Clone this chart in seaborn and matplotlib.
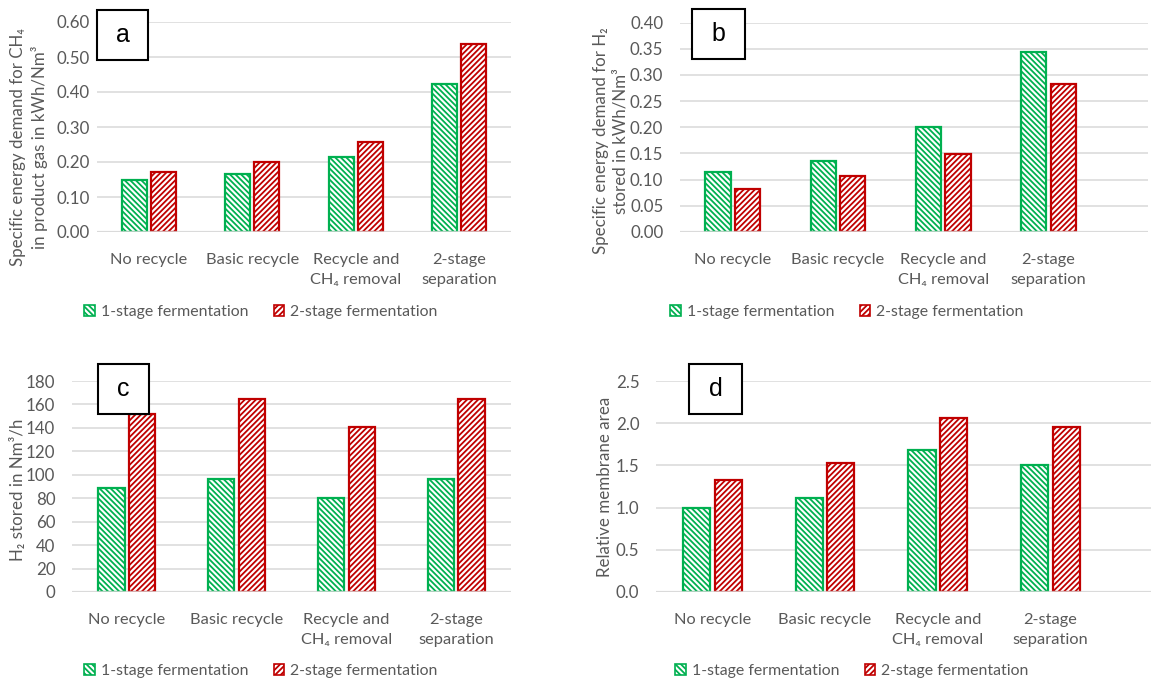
import numpy as np
import pandas as pd
import matplotlib
matplotlib.use("Agg")
import matplotlib.pyplot as plt
import seaborn as sns
from matplotlib.patches import Patch, Rectangle
from matplotlib.ticker import FormatStrFormatter

# data
SCENARIOS = ["No recycle", "Basic recycle", "Recycle and\nCH₄ removal", "2-stage\nseparation"]
STAGES = ["1-stage fermentation", "2-stage fermentation"]

ch4_1stage = [0.149, 0.167, 0.215, 0.423]
ch4_2stage = [0.171, 0.200, 0.256, 0.538]
h2_1stage = [0.115, 0.135, 0.200, 0.343]
h2_2stage = [0.083, 0.106, 0.149, 0.282]
stored_1stage = [89, 96, 80, 96]
stored_2stage = [152, 165, 141, 165]
area_1stage = [1.00, 1.11, 1.68, 1.50]
area_2stage = [1.33, 1.53, 2.06, 1.95]

# styling
W, H = 1151, 681
GREEN = "#00B050"
RED = "#C00000"
TEXT = "#595959"
GRID = "#D9D9D9"
HATCHES = ["\\\\\\\\\\\\", "//////"]
FONT = 12.2
XFONT = 11.8
LEGFONT = 11.4

sns.set_theme(style="white")
plt.rcParams["font.family"] = ["Lato", "DejaVu Sans"]
plt.rcParams["hatch.linewidth"] = 1.3


def px_rect(left, right, top, bottom):
    return [left / W, 1 - bottom / H, (right - left) / W, (bottom - top) / H]


def draw_panel(fig, v1, v2, rect, xmax, ylim, yticks, fmt, ylabel, label_xy, ypad, letter_box, legend_xy):
    ax = fig.add_axes(px_rect(*rect))
    df = pd.DataFrame({
        "scenario": SCENARIOS * 2,
        "stage": [STAGES[0]] * 4 + [STAGES[1]] * 4,
        "value": v1 + v2,
    })
    sns.barplot(data=df, x="scenario", y="value", hue="stage", order=SCENARIOS,
                hue_order=STAGES, palette=[GREEN, RED], width=0.56, gap=0.143,
                ax=ax, legend=False, zorder=3)
    for bars, color, hatch in zip(ax.containers, [GREEN, RED], HATCHES):
        for bar in bars:
            bar.set_facecolor("white")
            bar.set_edgecolor(color)
            bar.set_hatch(hatch)
            bar.set_linewidth(1.6)

    ax.set_xlim(-0.5, xmax)
    ax.set_ylim(*ylim)
    ax.set_yticks(yticks)
    ax.yaxis.set_major_formatter(FormatStrFormatter(fmt))
    ax.yaxis.grid(True, color=GRID, linewidth=1.1)
    ax.set_axisbelow(True)
    ax.axhline(ylim[0], color=GRID, linewidth=1.6, alpha=0.8, zorder=5)
    sns.despine(ax=ax, left=True, bottom=True)
    ax.tick_params(axis="y", length=0, colors=TEXT, labelsize=FONT, pad=ypad)
    ax.tick_params(axis="x", length=0, colors=TEXT, labelsize=XFONT, pad=15)
    for t in ax.get_xticklabels():
        t.set_linespacing(1.55)
    ax.set_xlabel("")

    # y label, placed by pixel position
    lx, ly = label_xy
    l, r, tp, b = rect
    ax.set_ylabel(ylabel, color=TEXT, fontsize=FONT, linespacing=1.3)
    ax.yaxis.label.set_verticalalignment("center")
    ax.yaxis.set_label_coords((lx - l) / (r - l), (b - ly) / (b - tp))

    # panel letter box
    bx0, bx1, by0, by1, letter = letter_box
    fig.add_artist(Rectangle((bx0 / W, 1 - by1 / H), (bx1 - bx0) / W, (by1 - by0) / H,
                             transform=fig.transFigure, facecolor="white",
                             edgecolor="black", linewidth=1.5, zorder=10))
    fig.text((bx0 + bx1) / 2 / W, 1 - (by0 + by1) / 2 / H, letter, ha="center", va="center",
             fontsize=18, family="Liberation Sans", color="black", zorder=11)

    handles = [Patch(facecolor="white", edgecolor=c, hatch=h, linewidth=1.2, label=s)
               for c, h, s in zip([GREEN, RED], HATCHES, STAGES)]
    fig.legend(handles=handles, loc="center", ncol=2, frameon=False,
               bbox_to_anchor=(legend_xy[0] / W, 1 - legend_xy[1] / H),
               fontsize=LEGFONT, labelcolor=TEXT, handlelength=0.65, handleheight=0.65,
               handletextpad=0.4, columnspacing=1.6)
    return ax


fig = plt.figure(figsize=(W / 100, H / 100), dpi=100)

draw_panel(fig, ch4_1stage, ch4_2stage, (97, 511, 22, 232), 3.5, (0, 0.6),
           np.arange(0, 0.61, 0.1), "%.2f",
           "Specific energy demand for CH₄\nin product gas in kWh/Nm³",
           (29, 147), 5, (97, 148, 10, 60, "a"), (261, 312))

draw_panel(fig, h2_1stage, h2_2stage, (680, 1148, 22.5, 232), 3.944, (0, 0.4),
           np.arange(0, 0.41, 0.05), "%.2f",
           "Specific energy demand for H₂\nstored in kWh/Nm³",
           (611, 141), 12, (692, 745, 9, 59, "b"), (847, 312))

draw_panel(fig, stored_1stage, stored_2stage, (72, 511, 381, 592), 3.5, (0, 180),
           np.arange(0, 181, 20), "%d",
           "H₂ stored in Nm³/h",
           (18, 490), 12, (98, 149, 364, 414, "c"), (261, 671))

draw_panel(fig, area_1stage, area_2stage, (656, 1151, 381, 592), 3.892, (0, 2.5),
           np.arange(0, 2.51, 0.5), "%.1f",
           "Relative membrane area",
           (605, 487), 12, (689, 742, 364, 414, "d"), (852, 671))

fig.savefig("out.png", dpi=100, facecolor="white")
